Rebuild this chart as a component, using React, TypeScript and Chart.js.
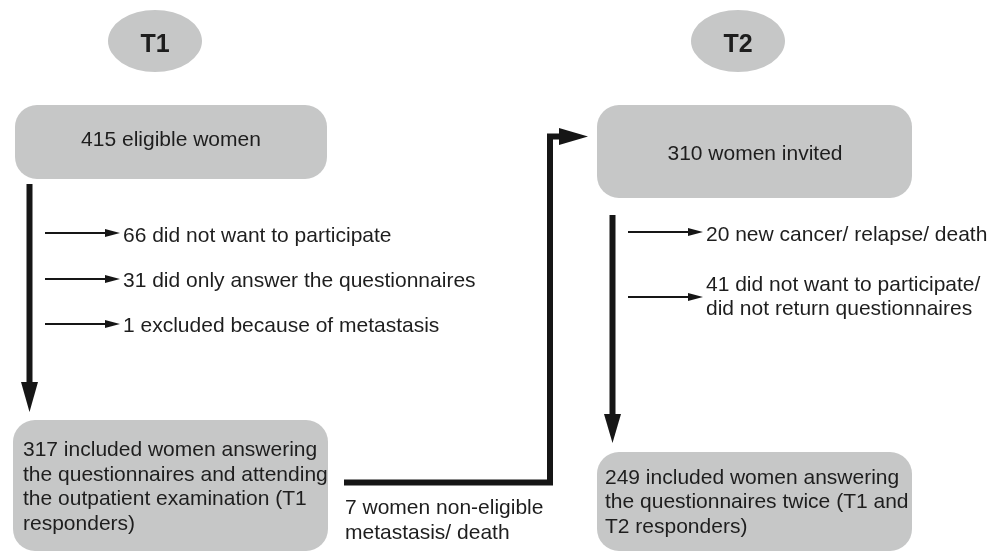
import React, { useEffect, useRef } from "react";
import { Chart, registerables } from "chart.js";

Chart.register(...registerables);

// ---- data ----
const phaseLabels = ["T1", "T2"];
const t1Counts = [415, 66, 31, 1, 317];
const t2Counts = [310, 20, 41, 249];
const transferCounts = [7];

const t1MainText = `${t1Counts[0]} eligible women`;
const t1Exclusions = [
  `${t1Counts[1]} did not want to participate`,
  `${t1Counts[2]} did only answer the questionnaires`,
  `${t1Counts[3]} excluded because of metastasis`,
];
const t1ResultLines = [
  `${t1Counts[4]} included women answering`,
  "the questionnaires and attending",
  "the outpatient examination (T1",
  "responders)",
];
const transferLines = [`${transferCounts[0]} women non-eligible`, "metastasis/ death"];
const t2MainText = `${t2Counts[0]} women invited`;
const t2Exclusions = [
  [`${t2Counts[1]} new cancer/ relapse/ death`],
  [`${t2Counts[2]} did not want to participate/`, "did not return questionnaires"],
];
const t2ResultLines = [
  `${t2Counts[3]} included women answering`,
  "the questionnaires twice (T1 and",
  "T2 responders)",
];

// ---- layout (styling, not data) ----
const GRAY = "#c6c7c7";
const INK = "#161616";
const TXT = "#1e1e1e";
const FONT = "21px 'Liberation Sans', Arial, sans-serif";
const BOLD = "bold 25px 'Liberation Sans', Arial, sans-serif";

const flowPlugin = {
  id: "flow",
  afterDraw(chart: any) {
    const ctx: CanvasRenderingContext2D = chart.ctx;
    const X = (v: number) => chart.scales.x.getPixelForValue(v);
    const Y = (v: number) => chart.scales.y.getPixelForValue(v);

    const ellipse = (cx: number, cy: number, rx: number, ry: number) => {
      ctx.beginPath();
      ctx.ellipse(X(cx), Y(cy), rx, ry, 0, 0, Math.PI * 2);
      ctx.fillStyle = GRAY;
      ctx.fill();
    };
    const box = (x0: number, y0: number, x1: number, y1: number, r: number) => {
      ctx.beginPath();
      (ctx as any).roundRect(X(x0), Y(y0), X(x1) - X(x0), Y(y1) - Y(y0), r);
      ctx.fillStyle = GRAY;
      ctx.fill();
    };
    const poly = (pts: number[][], w: number) => {
      ctx.beginPath();
      pts.forEach((p, i) => (i ? ctx.lineTo(X(p[0]), Y(p[1])) : ctx.moveTo(X(p[0]), Y(p[1]))));
      ctx.lineWidth = w;
      ctx.strokeStyle = INK;
      ctx.lineJoin = "miter";
      ctx.lineCap = "butt";
      ctx.stroke();
    };
    const tri = (pts: number[][]) => {
      ctx.beginPath();
      pts.forEach((p, i) => (i ? ctx.lineTo(X(p[0]), Y(p[1])) : ctx.moveTo(X(p[0]), Y(p[1]))));
      ctx.closePath();
      ctx.fillStyle = INK;
      ctx.fill();
    };
    const text = (s: string, x: number, y: number, align: CanvasTextAlign, font = FONT) => {
      ctx.font = font;
      ctx.fillStyle = TXT;
      ctx.textAlign = align;
      ctx.textBaseline = "alphabetic";
      ctx.fillText(s, X(x), Y(y));
    };
    const thinArrow = (x0: number, x1: number, y: number) => {
      poly([[x0, y], [x1 - 12, y]], 2);
      tri([[x1 - 15, y - 4], [x1, y], [x1 - 15, y + 4]]);
    };

    ctx.save();
    // phase ellipses
    ellipse(155, 41, 47, 31);
    ellipse(738, 41, 47, 31);
    text(phaseLabels[0], 155, 52, "center", BOLD);
    text(phaseLabels[1], 738, 52, "center", BOLD);

    // boxes
    box(15, 105, 327, 179, 22);
    box(597, 105, 912, 198, 22);
    box(13, 420, 328, 551, 22);
    box(597, 452, 912, 551, 22);

    text(t1MainText, 171, 146, "center");
    text(t2MainText, 755, 160, "center");

    // T1 main downward arrow
    poly([[29.5, 184], [29.5, 384]], 6);
    tri([[21, 382], [38, 382], [29.5, 412]]);

    // T1 exclusions
    const t1Y = [233, 279, 324];
    const t1B = [242, 287, 332];
    t1Exclusions.forEach((s, i) => {
      thinArrow(45, 120, t1Y[i]);
      text(s, 123, t1B[i], "left");
    });

    // T1 result
    const t1L = [456, 480.5, 505, 529.5];
    t1ResultLines.forEach((s, i) => text(s, 23, t1L[i], "left"));

    // transfer connector
    poly([[344, 482.5], [550, 482.5], [550, 136.5], [561, 136.5]], 6);
    tri([[559, 128], [588, 136.5], [559, 145]]);
    text(transferLines[0], 345, 514, "left");
    text(transferLines[1], 345, 539, "left");

    // T2 downward arrow
    poly([[612.5, 215], [612.5, 416]], 6);
    tri([[604, 414], [621, 414], [612.5, 443]]);

    // T2 exclusions
    const t2Y = [232, 297];
    const t2B = [[241], [291, 315]];
    t2Exclusions.forEach((lines, i) => {
      thinArrow(628, 703, t2Y[i]);
      lines.forEach((s, j) => text(s, 706, t2B[i][j], "left"));
    });

    // T2 result
    const t2L = [483.5, 508, 532.5];
    t2ResultLines.forEach((s, i) => text(s, 605, t2L[i], "left"));
    ctx.restore();
  },
};

export default function App() {
  const ref = useRef<HTMLCanvasElement | null>(null);
  useEffect(() => {
    if (!ref.current) return;
    const chart = new Chart(ref.current, {
      type: "scatter",
      data: { datasets: [] },
      options: {
        responsive: false,
        animation: false,
        devicePixelRatio: 1,
        layout: { padding: 0 },
        plugins: { legend: { display: false }, tooltip: { enabled: false } },
        scales: {
          x: { type: "linear", min: 0, max: 1003, display: false },
          y: { type: "linear", min: 0, max: 554, reverse: true, display: false },
        },
      },
      plugins: [flowPlugin],
    } as any);
    return () => chart.destroy();
  }, []);
  return (
    <div style={{ position: "absolute", left: 0, top: 0, width: 1003, height: 554, background: "#fff" }}>
      <canvas ref={ref} width={1003} height={554} style={{ display: "block" }} />
    </div>
  );
}
